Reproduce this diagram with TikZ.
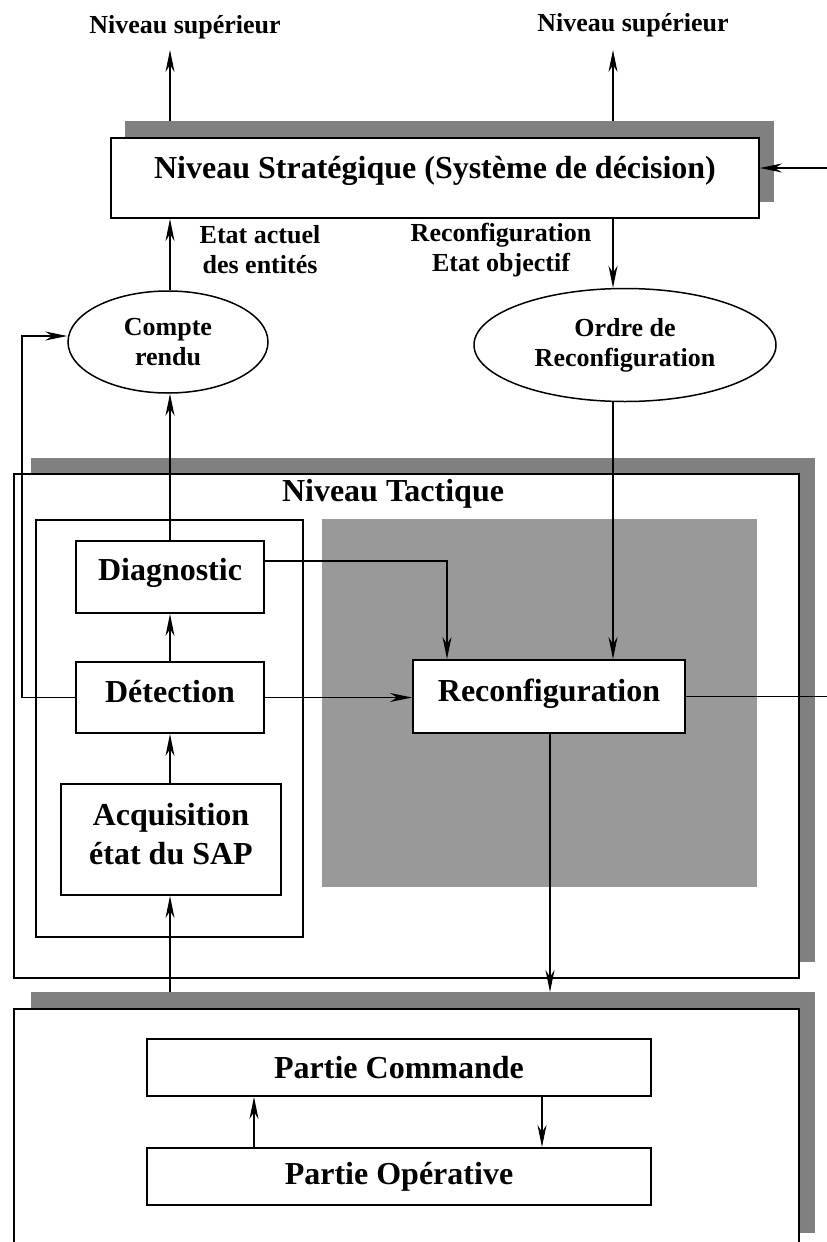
\documentclass[tikz,border=0pt]{standalone}
\usepackage{fontspec}
\setmainfont{Liberation Serif}
\usetikzlibrary{arrows.meta,shapes.geometric}
\definecolor{shadowgray}{HTML}{808080}
\definecolor{areagray}{HTML}{999999}
\pgfdeclarelayer{under}
\pgfdeclarelayer{shad}
\pgfsetlayers{under,shad,main}
\newcommand\fbig{\fontsize{32}{39}\selectfont\bfseries}
\newcommand\fsmall{\fontsize{26}{30}\selectfont\bfseries}
\begin{document}
\begin{tikzpicture}[x=1pt,y=-1pt,
  box/.style={draw, line width=2pt, fill=white, inner sep=0pt, anchor=north west, font=\fbig, align=center},
  shd/.style={fill=shadowgray, inner sep=0pt, anchor=north west},
  oval/.style={draw, ellipse, line width=1.5pt, fill=white, inner sep=0pt, font=\fsmall, align=center},
  arr/.style={line width=1.5pt, -{Stealth[length=22pt,width=9pt,inset=7pt]}},
  ln/.style={line width=1.5pt},
  lbl/.style={font=\fsmall, align=center, inner sep=0pt}]
\useasboundingbox (0,0) rectangle (827,1242);
% helper coordinates
\coordinate (xl) at (170,0);
\coordinate (xr) at (613,0);
\coordinate (xd) at (447,0);
\coordinate (xc) at (550,0);
\coordinate (xf) at (22,0);
\coordinate (xo) at (254,0);
\coordinate (xp) at (542,0);
\coordinate (tipl) at (170,50);
\coordinate (tipr) at (613,50);
\coordinate (rin) at (827,168);
\coordinate (rout) at (827,697);
% shadows
\begin{pgfonlayer}{shad}
\node[shd, minimum width=649pt, minimum height=81pt] (stratsh) at (125,121) {};
\node[shd, minimum width=784pt, minimum height=504pt] (tactsh) at (31,458) {};
\node[shd, minimum width=784pt, minimum height=241pt] (botsh) at (31,992) {};
\end{pgfonlayer}
% strategic level
\node[box, minimum width=648pt, minimum height=80pt, text depth=21pt] (strat) at (110,137) {Niveau Stratégique (Système de décision)};
\node[lbl] (sup1) at (185,27) {Niveau supérieur};
\node[lbl] (sup2) at (633,25) {Niveau supérieur};
\node[lbl] (etat) at (260,250) {Etat actuel\\des entités};
\node[lbl] (recfl) at (501,250) {Reconfiguration\\Etat objectif};
\node[oval, minimum width=200pt, minimum height=102pt] (compte) at (168,342) {Compte\\rendu};
\node[oval, minimum width=302pt, minimum height=113pt] (ordre) at (625,345) {Ordre de\\Reconfiguration};
% tactical level
\node[box, minimum width=785pt, minimum height=504pt] (tact) at (13,473) {};
\node[font=\fbig, inner sep=0pt] (tacttitle) at (393,494) {Niveau Tactique};
\node[box, fill=none, line width=1.5pt, minimum width=267pt, minimum height=417pt] (inner) at (35,519) {};
\node[fill=areagray, inner sep=0pt, anchor=north west, minimum width=435pt, minimum height=368pt] (area) at (322,519) {};
\node[box, minimum width=188pt, minimum height=72pt, text depth=15pt] (diag) at (75,540) {Diagnostic};
\node[box, minimum width=188pt, minimum height=71pt, text depth=12pt] (detect) at (75,661) {Détection};
\node[box, minimum width=220pt, minimum height=111pt, text depth=12pt] (acq) at (60,783) {Acquisition\\état du SAP};
\node[box, minimum width=272pt, minimum height=73pt, text depth=13pt] (reconf) at (412,659) {Reconfiguration};
% operational level
\node[box, minimum width=785pt, minimum height=260pt] (bot) at (13,1008) {};
\node[box, minimum width=504pt, minimum height=57pt] (cmd) at (146,1038) {Partie Commande};
\node[box, minimum width=504pt, minimum height=57pt] (op) at (146,1147) {Partie Opérative};
% connectors under shadows
\begin{pgfonlayer}{under}
\draw[arr] (strat.north -| xl) -- (tipl);
\draw[arr] (strat.north -| xr) -- (tipr);
\end{pgfonlayer}
% connectors
\draw[arr] (botsh.north -| xl) -- (acq.south -| xl);
\draw[arr] (rin) -- (rin -| strat.east);
\draw[arr] (compte.north -| xl) -- (strat.south -| xl);
\draw[arr] (strat.south -| xr) -- (ordre.north -| xr);
\draw[arr] (diag.north -| xl) -- (compte.south -| xl);
\draw[arr] (detect.north -| xl) -- (diag.south -| xl);
\draw[arr] (acq.north -| xl) -- (detect.south -| xl);
\draw[arr] (detect.east) -- (detect.east -| reconf.west);
\draw[arr] ([yshift=16pt]diag.east) -| (reconf.north -| xd);
\draw[arr] (ordre.south -| xr) -- (reconf.north -| xr);
\draw[arr] (reconf.south -| xc) -- (botsh.north -| xc);
\draw[ln] (reconf.east) -- (reconf.east -| rout);
\draw[arr] (detect.west) -- (detect.west -| xf) |- ([yshift=6pt]compte.west);
\draw[arr] (op.north -| xo) -- (cmd.south -| xo);
\draw[arr] (cmd.south -| xp) -- (op.north -| xp);
\end{tikzpicture}
\end{document}
